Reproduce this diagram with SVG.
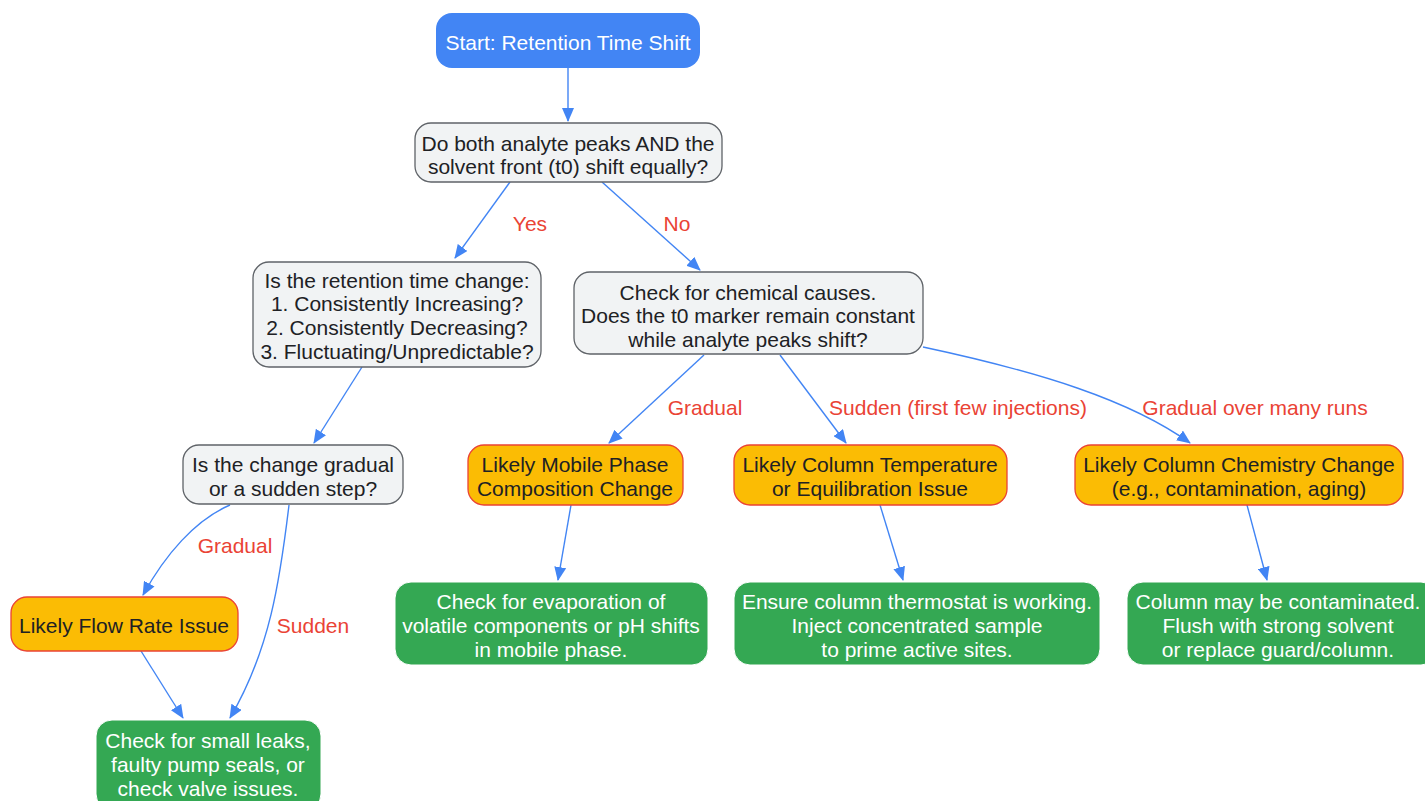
<svg xmlns="http://www.w3.org/2000/svg" width="1425" height="801" viewBox="0 0 1425 801">
<defs>
<marker id="ah" markerUnits="userSpaceOnUse" markerWidth="14" markerHeight="12" refX="13" refY="6" orient="auto">
<path d="M0,0 L14,6 L0,12 z" fill="#4285F4"/>
</marker>
<style>
text{font-family:"Liberation Sans",Arial,sans-serif;font-size:21px;text-anchor:middle;dominant-baseline:central}
.q rect{fill:#F1F3F4;stroke:#5F6368;stroke-width:1.3}
.q text{fill:#202124}
.w rect{fill:#FBBC04;stroke:#EA4335;stroke-width:1.3}
.w text{fill:#202124}
.g rect{fill:#34A853;stroke:#ffffff;stroke-width:1}
.g text{fill:#ffffff}
.s rect{fill:#4285F4}
.s text{fill:#ffffff}
.e path{fill:none;stroke:#4285F4;stroke-width:1.4;marker-end:url(#ah)}
.e text{fill:#EA4335}
</style>
</defs>
<rect width="1425" height="801" fill="#ffffff"/>
<g class="e" id="connectors">
<path d="M568,68 L568,121"/>
<path d="M510,182 L455,258"/>
<path d="M602,182 L700,270"/>
<path d="M362,367 L314,443"/>
<path d="M230,505 C195,520 165,555 143,595"/>
<path d="M289,505 C280,580 270,650 230,718"/>
<path d="M141,651 L183,718"/>
<path d="M704,355 L609,443"/>
<path d="M780,355 L846,443"/>
<path d="M923,347 C1040,372 1130,400 1190,443"/>
<path d="M571,505 L558,580"/>
<path d="M880,505 L903,580"/>
<path d="M1247,505 L1267,580"/>
<text x="530" y="223">Yes</text>
<text x="677" y="223">No</text>
<text x="235" y="545">Gradual</text>
<text x="313" y="625">Sudden</text>
<text x="705" y="407">Gradual</text>
<text x="958" y="407">Sudden (first few injections)</text>
<text x="1255" y="407">Gradual over many runs</text>
</g>
<g id="start" class="s"><rect x="436" y="13" width="264" height="55" rx="16"/><text x="568" y="42">Start: Retention Time Shift</text></g>
<g id="q1" class="q"><rect x="415" y="123" width="307" height="59" rx="16"/><text x="568" y="143">Do both analyte peaks AND the</text><text x="568" y="166">solvent front (t0) shift equally?</text></g>
<g id="q2" class="q"><rect x="253" y="262" width="288" height="105" rx="16"/><text x="397" y="280">Is the retention time change:</text><text x="397" y="303">1. Consistently Increasing?</text><text x="397" y="327">2. Consistently Decreasing?</text><text x="397" y="351">3. Fluctuating/Unpredictable?</text></g>
<g id="q3" class="q"><rect x="183" y="445" width="220" height="59" rx="16"/><text x="293" y="464">Is the change gradual</text><text x="293" y="488">or a sudden step?</text></g>
<g id="chem" class="q"><rect x="574" y="272" width="349" height="82" rx="16"/><text x="748" y="292">Check for chemical causes.</text><text x="748" y="315">Does the t0 marker remain constant</text><text x="748" y="339">while analyte peaks shift?</text></g>
<g id="mobile" class="w"><rect x="468" y="445" width="215" height="60" rx="16"/><text x="575" y="464">Likely Mobile Phase</text><text x="575" y="488">Composition Change</text></g>
<g id="temp" class="w"><rect x="734" y="445" width="273" height="60" rx="16"/><text x="870" y="464">Likely Column Temperature</text><text x="870" y="488">or Equilibration Issue</text></g>
<g id="colchem" class="w"><rect x="1075" y="445" width="328" height="60" rx="16"/><text x="1239" y="464">Likely Column Chemistry Change</text><text x="1239" y="488">(e.g., contamination, aging)</text></g>
<g id="flow" class="w"><rect x="11" y="597" width="227" height="54" rx="16"/><text x="124" y="625">Likely Flow Rate Issue</text></g>
<g id="leaks" class="g"><rect x="96" y="720" width="225" height="90" rx="16"/><text x="208" y="740">Check for small leaks,</text><text x="208" y="764">faulty pump seals, or</text><text x="208" y="788">check valve issues.</text></g>
<g id="evap" class="g"><rect x="395" y="582" width="313" height="83" rx="16"/><text x="551" y="601">Check for evaporation of</text><text x="551" y="625">volatile components or pH shifts</text><text x="551" y="649">in mobile phase.</text></g>
<g id="thermo" class="g"><rect x="734" y="582" width="366" height="83" rx="16"/><text x="917" y="601">Ensure column thermostat is working.</text><text x="917" y="625">Inject concentrated sample</text><text x="917" y="649">to prime active sites.</text></g>
<g id="contam" class="g"><rect x="1127" y="582" width="310" height="83" rx="16"/><text x="1278" y="601">Column may be contaminated.</text><text x="1278" y="625">Flush with strong solvent</text><text x="1278" y="649">or replace guard/column.</text></g>
</svg>
